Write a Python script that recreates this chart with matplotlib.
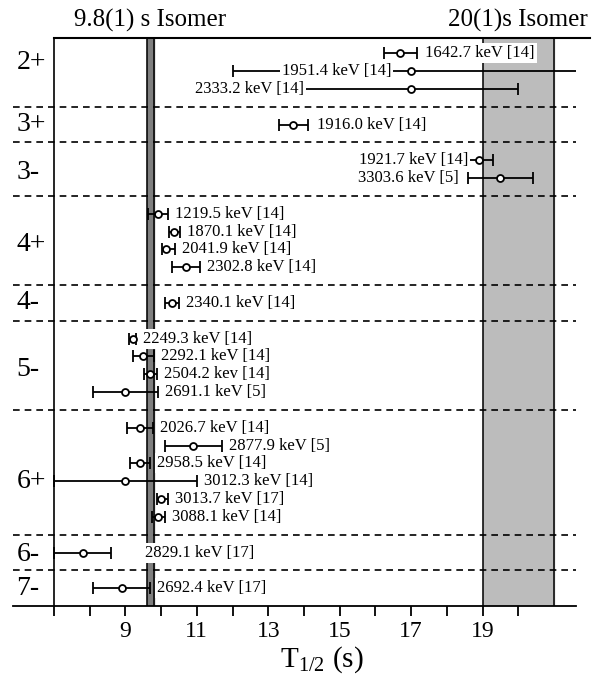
import matplotlib
matplotlib.use("Agg")
import matplotlib.pyplot as plt

plt.rcParams["font.family"] = ["Liberation Serif", "DejaVu Serif"]
plt.rcParams["mathtext.default"] = "regular"

# spin groups, top to bottom
groups = ["2+", "3+", "3-", "4+", "4-", "5-", "6+", "6-", "7-"]
group_sizes = [3, 1, 2, 4, 1, 4, 6, 1, 1]

# one entry per level, top to bottom
labels = [
    "1642.7 keV [14]", "1951.4 keV [14]", "2333.2 keV [14]",
    "1916.0 keV [14]",
    "1921.7 keV [14]", "3303.6 keV [5]",
    "1219.5 keV [14]", "1870.1 keV [14]", "2041.9 keV [14]", "2302.8 keV [14]",
    "2340.1 keV [14]",
    "2249.3 keV [14]", "2292.1 keV [14]", "2504.2 kev [14]", "2691.1 keV [5]",
    "2026.7 keV [14]", "2877.9 keV [5]", "2958.5 keV [14]", "3012.3 keV [14]",
    "3013.7 keV [17]", "3088.1 keV [14]",
    "2829.1 keV [17]",
    "2692.4 keV [17]",
]
t_half = [16.7, 17.0, 17.0, 13.7, 18.9, 19.5, 9.9, 10.37, 10.15, 10.7, 10.3,
          9.2, 9.5, 9.7, 9.0, 9.4, 10.9, 9.4, 9.0, 10.0, 9.9, 7.8, 8.9]
err_lo = [0.47, 5.0, 3.0, 0.4, 0.4, 0.9, 0.28, 0.15, 0.13, 0.4, 0.2,
          0.09, 0.3, 0.18, 0.9, 0.37, 0.8, 0.28, 2.0, 0.12, 0.17, 0.8, 0.8]
err_hi = [0.47, 4.9, 3.0, 0.4, 0.4, 0.9, 0.28, 0.15, 0.25, 0.4, 0.2,
          0.09, 0.3, 0.18, 0.9, 0.37, 0.8, 0.28, 2.0, 0.18, 0.2, 0.8, 0.8]

# isomers: (centre, low edge, high edge)
iso_short = (9.7, 9.6, 9.8)
iso_long = (20.0, 19.0, 21.0)

# where each label sits: r = after right cap, l = before left cap, m = left of point
label_side = ["r", "m", "l", "r", "m", "l"] + ["r"] * 17
label_gap = [8, 20, 0, 9, 11, 9] + [7] * 15 + [34, 7]

# slot layout: one slot per level, one per separator
y_pos = []
seps = []
slot = 1
for gi, n in enumerate(group_sizes):
    for k in range(n):
        y_pos.append(slot)
        slot += 1
    if gi < len(group_sizes) - 1:
        seps.append(slot)
        slot += 1
y_bottom = slot
y_top = 0.16

fig = plt.figure(figsize=(6.05, 6.83), dpi=100)
ax = fig.add_axes([0.022, 0.1127, 0.9296, 0.8312])
ax.set_xlim(5.86, 21.61)
ax.set_ylim(y_bottom, y_top)

# isomer bands
ax.axvspan(iso_short[1], iso_short[2], color="#7f7f7f", zorder=1)
ax.axvspan(iso_long[1], iso_long[2], color="#bcbcbc", zorder=1)
for x in [iso_short[1], iso_short[2], iso_long[1], iso_long[2]]:
    ax.axvline(x, color="black", lw=1.1, zorder=1.5)

# group separators
for s in seps:
    ax.axhline(s, color="black", lw=1.2, ls=(0, (4, 3)), zorder=2)

# frame
ax.axvline(7, color="black", lw=1.2, zorder=2)
ax.plot([7, 22], [y_top, y_top], color="black", lw=1.5, clip_on=False, zorder=2)
for sp in ["top", "left", "right"]:
    ax.spines[sp].set_visible(False)
ax.spines["bottom"].set_linewidth(1.3)

ax.errorbar(t_half, y_pos, xerr=[err_lo, err_hi], fmt="o", color="black",
            mfc="white", ms=5, mew=1.3, elinewidth=1.3, capsize=4, capthick=1.3,
            zorder=3)

for i, txt in enumerate(labels):
    side = label_side[i]
    if side == "r":
        anchor, dx, ha = t_half[i] + err_hi[i], label_gap[i], "left"
    elif side == "l":
        anchor, dx, ha = t_half[i] - err_lo[i], -label_gap[i], "right"
    else:
        anchor, dx, ha = t_half[i], -label_gap[i], "right"
    ax.annotate(txt, (anchor, y_pos[i]), xytext=(dx, 0), textcoords="offset pixels",
                ha=ha, va="center", fontsize=12,
                bbox=dict(fc="white", ec="none", pad=1.5), zorder=4)

# spin labels
label_shift = [-0.5, 0, 0.2, 0.25, 0, 0.25, 0.5, 0.1, 0]
start = 0
for gi, n in enumerate(group_sizes):
    centre = sum(y_pos[start:start + n]) / n + label_shift[gi]
    ax.text(5.95, centre, groups[gi], ha="left", va="center", fontsize=20, zorder=4)
    start += n

ax.text(iso_short[0], y_top - 0.35, "9.8(1) s Isomer", ha="center", va="bottom",
        fontsize=18)
ax.text(iso_long[0], y_top - 0.35, "20(1)s Isomer", ha="center", va="bottom",
        fontsize=18)

ax.set_xticks(range(7, 21))
ax.set_xticklabels(["" if t % 2 == 0 or t == 7 else str(t) for t in range(7, 21)])
ax.tick_params(axis="x", direction="out", length=7, width=1.3, labelsize=17, pad=4)
ax.set_yticks([])

ax.text((14.5 - 5.86) / (21.61 - 5.86), -0.095, r"T$_{1/2}$ (s)",
        transform=ax.transAxes, ha="center", va="center", fontsize=21)

fig.savefig("out.png", dpi=100)
